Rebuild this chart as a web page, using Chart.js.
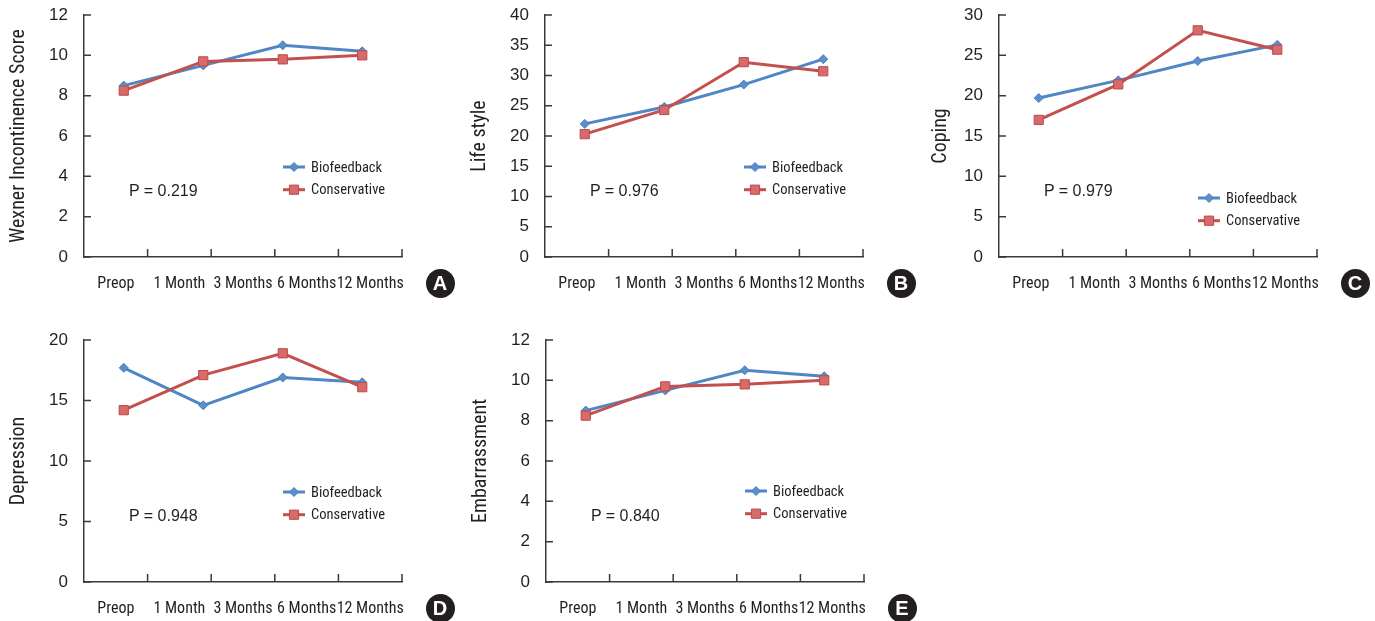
<!DOCTYPE html>
<html><head><meta charset="utf-8">
<script src="https://cdn.jsdelivr.net/npm/chart.js@4.4.1/dist/chart.umd.min.js"></script>
<style>
html,body{margin:0;padding:0;background:#fff;width:1375px;height:621px;overflow:hidden;}
.panel{position:absolute;width:460px;height:310px;}
.ptext{position:absolute;font-family:'Liberation Sans',Arial,sans-serif;font-size:16px;color:#231f20;white-space:nowrap;line-height:16px;}
.badge{position:absolute;width:29px;height:29px;border-radius:50%;background:#231f20;color:#fff;font:bold 20px 'Liberation Sans',Arial,sans-serif;text-align:center;line-height:29px;}
</style></head><body>
<script>
// ---------- data ----------
const xLabels = ['Preop', '1 Month', '3 Months', '6 Months', '12 Months'];
const pointLabels = ['Visit 1', 'Visit 2', 'Visit 3', 'Visit 4'];
const seriesNames = ['Biofeedback', 'Conservative'];

const wexnerBio = [8.5, 9.5, 10.5, 10.2];
const wexnerCon = [8.25, 9.7, 9.8, 10.0];
const lifeBio = [22.0, 24.8, 28.5, 32.7];
const lifeCon = [20.3, 24.3, 32.2, 30.7];
const copingBio = [19.7, 21.9, 24.3, 26.3];
const copingCon = [17.0, 21.4, 28.1, 25.7];
const depBio = [17.7, 14.6, 16.9, 16.5];
const depCon = [14.2, 17.1, 18.9, 16.1];
const embBio = [8.5, 9.5, 10.5, 10.2];
const embCon = [8.25, 9.7, 9.8, 10.0];

const yTitles = ['Wexner Incontinence Score', 'Life style', 'Coping', 'Depression', 'Embarrassment'];
const yMaxes = [12, 40, 30, 20, 12];
const ySteps = [2, 5, 5, 5, 2];
const pValues = ['P = 0.219', 'P = 0.976', 'P = 0.979', 'P = 0.948', 'P = 0.840'];
const panelLetters = ['A', 'B', 'C', 'D', 'E'];
const bioSeries = [wexnerBio, lifeBio, copingBio, depBio, embBio];
const conSeries = [wexnerCon, lifeCon, copingCon, depCon, embCon];

// ---------- layout / style ----------
const panelPos = [[0, 0], [461, 0], [915, 0], [0, 325], [462, 325]];
const legendTop = [152, 152, 183, 152, 151];
const titlePad = [7, 7, 14, 7, 7];
const AXIS = '#3a3a3a';
const TEXT = '#231f20';
const NARROW = "'Roboto Condensed','Liberation Sans Narrow','Arial Narrow','DejaVu Sans Condensed',sans-serif";
const REG = "'Liberation Sans',Arial,sans-serif";
const BLUE = '#4F86C6';
const RED = '#C4504E';

const innerTicks = {
  id: 'innerTicks',
  afterDraw(chart) {
    const ctx = chart.ctx, ys = chart.scales.y, xs = chart.scales.x, ca = chart.chartArea;
    ctx.save();
    ctx.strokeStyle = AXIS; ctx.lineWidth = 1.5;
    ctx.beginPath();
    ys.ticks.forEach((t, i) => { const py = ys.getPixelForTick(i); ctx.moveTo(ca.left, py); ctx.lineTo(ca.left + 7, py); });
    for (let i = 1; i <= xs.ticks.length; i++) {
      const px = xs.getPixelForValue(i - 0.5);
      ctx.moveTo(px, ca.bottom); ctx.lineTo(px, ca.bottom - 8);
    }
    ctx.stroke();
    ctx.restore();
  }
};

const innerLegend = {
  id: 'innerLegend',
  afterDatasetsDraw(chart, args, opts) {
    const ca = chart.chartArea, ctx = chart.ctx;
    chart.data.datasets.forEach((ds, i) => {
      const yy = ca.top + opts.top + i * opts.rowGap;
      const x0 = ca.left + opts.left, x1 = x0 + opts.lineLen;
      ctx.save();
      ctx.strokeStyle = ds.borderColor; ctx.lineWidth = ds.borderWidth;
      ctx.beginPath(); ctx.moveTo(x0, yy); ctx.lineTo(x1, yy); ctx.stroke();
      ctx.fillStyle = ds.pointBackgroundColor; ctx.strokeStyle = ds.pointBorderColor; ctx.lineWidth = 1;
      Chart.helpers.drawPoint(ctx, { pointStyle: ds.pointStyle, radius: ds.pointRadius, borderWidth: 1, rotation: 0 }, (x0 + x1) / 2, yy);
      ctx.fillStyle = TEXT;
      ctx.font = '14.5px ' + NARROW;
      ctx.textBaseline = 'middle'; ctx.textAlign = 'left';
      ctx.fillText(ds.label, ca.left + opts.textX, yy + 1);
      ctx.restore();
    });
  }
};

for (let p = 0; p < 5; p++) {
  const div = document.createElement('div');
  div.className = 'panel';
  div.style.left = panelPos[p][0] + 'px';
  div.style.top = panelPos[p][1] + 'px';
  const cv = document.createElement('canvas');
  cv.width = 460; cv.height = 310;
  cv.style.width = '460px'; cv.style.height = '310px';
  div.appendChild(cv);
  document.body.appendChild(div);

  new Chart(cv, {
    type: 'line',
    data: {
      labels: pointLabels,
      datasets: [
        { label: seriesNames[0], data: bioSeries[p], xAxisID: 'xd', order: 1,
          borderColor: BLUE, backgroundColor: BLUE, borderWidth: 3, tension: 0,
          pointStyle: 'rectRot', pointRadius: 4.5, pointBackgroundColor: '#5B8FCC', pointBorderColor: '#4A7EBB', pointBorderWidth: 1 },
        { label: seriesNames[1], data: conSeries[p], xAxisID: 'xd', order: 0,
          borderColor: RED, backgroundColor: RED, borderWidth: 3, tension: 0,
          pointStyle: 'rect', pointRadius: 6.5, pointBackgroundColor: '#D96A6C', pointBorderColor: '#B94A48', pointBorderWidth: 1 }
      ]
    },
    options: {
      responsive: false, animation: false, devicePixelRatio: 1,
      layout: { padding: { left: 0, top: 15, right: 58, bottom: 0 } },
      plugins: {
        legend: { display: false }, tooltip: { enabled: false },
        innerLegend: { top: legendTop[p], rowGap: 22.7, left: 199, lineLen: 22, textX: 227 }
      },
      scales: {
        x: {
          type: 'category', labels: xLabels, offset: true, position: 'bottom',
          grid: { display: false, drawTicks: false, offset: true },
          border: { display: true, color: AXIS, width: 1.5 },
          ticks: { autoSkip: false, maxRotation: 0, minRotation: 0, padding: 17, color: TEXT, font: { family: NARROW, size: 16 } },
          afterFit(s) { s.height = 53; s.paddingLeft = 0; s.paddingRight = 0; }
        },
        xd: { type: 'category', display: false, offset: true },
        y: {
          min: 0, max: yMaxes[p], position: 'left',
          grid: { display: false, drawTicks: false },
          border: { display: true, color: AXIS, width: 1.5 },
          ticks: { stepSize: ySteps[p], padding: 16, color: TEXT, font: { family: REG, size: 17 } },
          title: { display: true, text: yTitles[p], color: TEXT, font: { family: NARROW, size: 20 }, padding: { top: titlePad[p], bottom: 0 } },
          afterFit(s) { s.width = 84; s.paddingTop = 0; s.paddingBottom = 0; }
        }
      }
    },
    plugins: [innerTicks, innerLegend]
  });

  const pt = document.createElement('div');
  pt.className = 'ptext';
  pt.textContent = pValues[p];
  pt.style.left = (panelPos[p][0] + 84 + 45) + 'px';
  pt.style.top = (panelPos[p][1] + 15 + 176 - 8) + 'px';
  document.body.appendChild(pt);

  const bd = document.createElement('div');
  bd.className = 'badge';
  bd.textContent = panelLetters[p];
  bd.style.left = (panelPos[p][0] + 402 + 38 - 14.5) + 'px';
  bd.style.top = (panelPos[p][1] + 257 + 26 - 14.5) + 'px';
  document.body.appendChild(bd);
}
</script>
</body></html>
